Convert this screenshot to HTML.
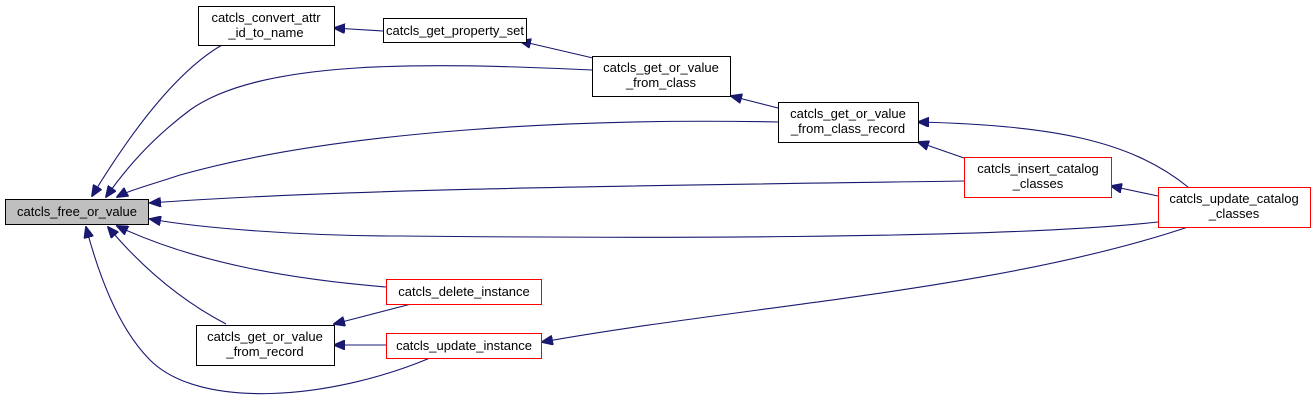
<!DOCTYPE html>
<html><head><style>body{margin:0;background:#fff}svg{display:block}text{font-family:"Liberation Sans",sans-serif;font-size:13px;fill:#000}</style></head><body>
<svg width="1316" height="403" viewBox="0 0 1316 403" xmlns="http://www.w3.org/2000/svg">
<defs><marker id="a" markerWidth="12" markerHeight="10" refX="11" refY="5" orient="auto" markerUnits="userSpaceOnUse"><path d="M0,0 L12,5 L0,10 z" fill="#191970" stroke="#191970"/></marker></defs>
<g fill="none" stroke="#191970" stroke-width="1.1" marker-end="url(#a)">
<path d="M222,45 C170,75 120,150 92,196"/>
<path d="M383,31 L334,28"/>
<path d="M592,70 C420,62 260,60 190,110 C150,140 125,170 106,197"/>
<path d="M593,58 L520,41"/>
<path d="M778,122 C580,118 340,130 180,175 C150,185 130,190 117,197"/>
<path d="M778,108 L731,96"/>
<path d="M964,181 C700,185 350,188 150,203"/>
<path d="M964,158 L918,142"/>
<path d="M1188,187 C1130,140 1050,125 918,122"/>
<path d="M1158,196 L1111,186"/>
<path d="M1158,222 C1000,240 600,238 400,236 C300,236 200,228 150,219"/>
<path d="M386,287 C300,280 200,265 117,226"/>
<path d="M415,303 L334,324"/>
<path d="M226,324 C180,300 140,265 108,227"/>
<path d="M386,345 L334,345"/>
<path d="M430,358 C330,400 200,410 150,360 C120,330 100,280 86,227"/>
<path d="M1188,227 C1000,290 750,305 542,342"/>
</g>
<g stroke-width="1">
<rect x="5.5" y="199.5" width="143" height="25" fill="#bfbfbf" stroke="#000"/>
<rect x="198.5" y="6.5" width="136" height="39" fill="#fff" stroke="#000"/>
<rect x="383.5" y="18.5" width="143" height="24" fill="#fff" stroke="#000"/>
<rect x="592.5" y="56.5" width="138" height="40" fill="#fff" stroke="#000"/>
<rect x="778.5" y="102.5" width="140" height="40" fill="#fff" stroke="#000"/>
<rect x="964.5" y="157.5" width="147" height="40" fill="#fff" stroke="#f00"/>
<rect x="1158.5" y="187.5" width="152" height="40" fill="#fff" stroke="#f00"/>
<rect x="386.5" y="279.5" width="155" height="25" fill="#fff" stroke="#f00"/>
<rect x="196.5" y="325.5" width="138" height="40" fill="#fff" stroke="#000"/>
<rect x="386.5" y="333.5" width="155" height="25" fill="#fff" stroke="#f00"/>
</g>
<g text-anchor="middle">
<text x="77" y="216">catcls_free_or_value</text>
<text x="266" y="22">catcls_convert_attr</text><text x="266" y="37">_id_to_name</text>
<text x="455" y="35">catcls_get_property_set</text>
<text x="661" y="72">catcls_get_or_value</text><text x="661" y="87">_from_class</text>
<text x="848" y="118">catcls_get_or_value</text><text x="848" y="133">_from_class_record</text>
<text x="1038" y="173">catcls_insert_catalog</text><text x="1038" y="188">_classes</text>
<text x="1234" y="203">catcls_update_catalog</text><text x="1234" y="218">_classes</text>
<text x="464" y="296">catcls_delete_instance</text>
<text x="265" y="341">catcls_get_or_value</text><text x="265" y="356">_from_record</text>
<text x="464" y="350">catcls_update_instance</text>
</g>
</svg>
</body></html>
